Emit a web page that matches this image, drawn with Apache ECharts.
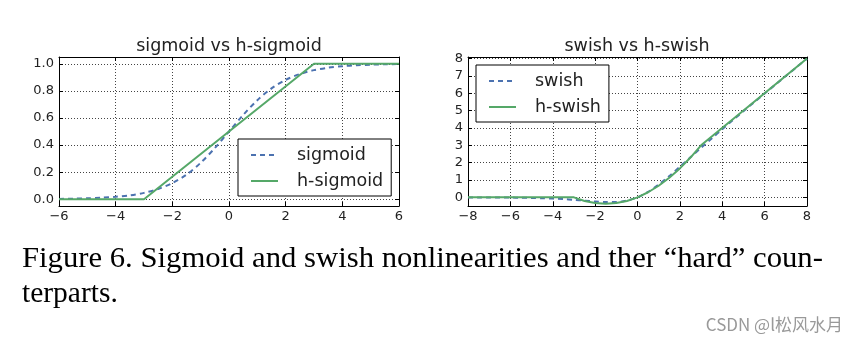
<!DOCTYPE html>
<html><head><meta charset="utf-8">
<script src="https://cdn.jsdelivr.net/npm/echarts@6/dist/echarts.min.js"></script>
<style>html,body{margin:0;padding:0;background:#fff;}#c{width:847px;height:344px;}</style>
</head><body><div id="c"></div>
<script>
// ---- data ----
const sigX = [-6,-5.5,-5,-4.5,-4,-3.5,-3,-2.5,-2,-1.5,-1,-0.5,0,0.5,1,1.5,2,2.5,3,3.5,4,4.5,5,5.5,6];
const sigY = [0.002,0.004,0.007,0.011,0.018,0.029,0.047,0.076,0.119,0.182,0.269,0.378,0.5,0.622,0.731,0.818,0.881,0.924,0.953,0.971,0.982,0.989,0.993,0.996,0.998];
const hsigX = [-6,-3,3,6];
const hsigY = [0,0,1,1];
const swX = [-8,-7.5,-7,-6.5,-6,-5.5,-5,-4.5,-4,-3.5,-3,-2.5,-2,-1.5,-1,-0.5,0,0.5,1,1.5,2,2.5,3,3.5,4,4.5,5,5.5,6,6.5,7,7.5,8];
const swY = [-0.003,-0.004,-0.006,-0.01,-0.015,-0.022,-0.034,-0.05,-0.072,-0.104,-0.142,-0.19,-0.238,-0.274,-0.269,-0.189,0,0.311,0.731,1.226,1.762,2.31,2.858,3.396,3.928,4.45,4.967,5.478,5.985,6.49,6.994,7.496,7.997];
const hswX = [-8,-3,-2.5,-2,-1.5,-1,-0.5,0,0.5,1,1.5,2,2.5,3,8];
const hswY = [0,0,-0.208,-0.333,-0.375,-0.333,-0.208,0,0.292,0.667,1.125,1.667,2.292,3,8];
const leftYTicks = [0,0.2,0.4,0.6,0.8,1.0];
const rightYTicks = [0,1,2,3,4,5,6,7,8];
const titles = ['sigmoid vs h-sigmoid','swish vs h-swish'];
const seriesNames = ['sigmoid','h-sigmoid','swish','h-swish'];
const captionLines = ['Figure 6. Sigmoid and swish nonlinearities and ther \u201chard\u201d coun-','terparts.'];
const watermark = 'CSDN @l松风水月';

const zip = (xs, ys) => xs.map((x, i) => [x, ys[i]]);
const minus = s => String(s).replace('-', '\u2212');
const FONT = 'DejaVu Sans';
const TXT = '#222';
const BLUE = '#4C72B0', GREEN = '#55A868';

const grids = [
  {left: 59, right: 448, top: 57, height: 149},
  {left: 468, right: 40, top: 57, height: 149}
];
function xAxes(gi, min, max, interval) {
  const base = {gridIndex: gi, type: 'value', min, max, interval,
    axisLine: {show: true, onZero: false, lineStyle: {color: '#000', width: 1}},
    axisTick: {show: true, inside: true, length: 4, lineStyle: {color: '#000'}}};
  return [
    Object.assign({}, base, {position: 'bottom',
      axisLabel: {show: true, margin: 4, color: TXT, fontFamily: FONT, fontSize: 13, formatter: minus},
      splitLine: {show: true, lineStyle: {color: '#444', type: [1, 2], width: 1}}}),
    Object.assign({}, base, {position: 'top', axisLabel: {show: false}, splitLine: {show: false}})
  ];
}
function yAxes(gi, min, max, ticks, fmt) {
  const base = {gridIndex: gi, type: 'value', min, max,
    axisLine: {show: true, onZero: false, lineStyle: {color: '#000', width: 1}},
    axisTick: {show: true, inside: true, length: 4, customValues: ticks, lineStyle: {color: '#000'}}};
  return [
    Object.assign({}, base, {position: 'left',
      axisLabel: {show: true, margin: 5, color: TXT, fontFamily: FONT, fontSize: 13, customValues: ticks, formatter: fmt},
      splitLine: {show: true, lineStyle: {color: '#444', type: [1, 2], width: 1}}}),
    Object.assign({}, base, {position: 'right', axisLabel: {show: false}, splitLine: {show: false}})
  ];
}

const CAP_FONT_SIZE = 29.5;
const legendCommon = {
  orient: 'vertical', padding: [7, 8, 6, 12], itemGap: 8, itemWidth: 27, itemHeight: 18,
  borderColor: '#000', borderWidth: 1, backgroundColor: '#fff', borderRadius: 0,
  itemStyle: {color: 'rgba(0,0,0,0)', borderWidth: 0, opacity: 0},
  textStyle: {fontFamily: FONT, fontSize: 17.5, color: TXT, padding: [0, 0, 0, 14]}
};

const option = {
  animation: false,
  backgroundColor: '#fff',
  grid: grids,
  title: [
    {text: titles[0], left: 229, top: 37, textAlign: 'center', padding: 0,
      textStyle: {fontFamily: FONT, fontSize: 17.5, fontWeight: 'normal', color: TXT}},
    {text: titles[1], left: 637, top: 37, textAlign: 'center', padding: 0,
      textStyle: {fontFamily: FONT, fontSize: 17.5, fontWeight: 'normal', color: TXT}}
  ],
  xAxis: [...xAxes(0, -6, 6, 2), ...xAxes(1, -8, 8, 2)],
  yAxis: [...yAxes(0, -0.05, 1.05, leftYTicks, v => minus(Number(v).toFixed(1))),
          ...yAxes(1, -0.5, 8.09, rightYTicks, v => minus(Math.round(v)))],
  legend: [
    Object.assign({}, legendCommon, {data: [seriesNames[0], seriesNames[1]], left: 238, top: 139}),
    Object.assign({}, legendCommon, {data: [seriesNames[2], seriesNames[3]], left: 476, top: 65})
  ],
  series: [
    {name: seriesNames[0], type: 'line', xAxisIndex: 0, yAxisIndex: 0, data: zip(sigX, sigY),
      showSymbol: false, symbol: 'none', smooth: 0.3, color: BLUE,
      lineStyle: {color: BLUE, width: 2, type: [5, 4]}, z: 3},
    {name: seriesNames[1], type: 'line', xAxisIndex: 0, yAxisIndex: 0, data: zip(hsigX, hsigY),
      showSymbol: false, symbol: 'none', color: GREEN,
      lineStyle: {color: GREEN, width: 2}, z: 4},
    {name: seriesNames[2], type: 'line', xAxisIndex: 2, yAxisIndex: 2, data: zip(swX, swY),
      showSymbol: false, symbol: 'none', smooth: 0.3, color: BLUE,
      lineStyle: {color: BLUE, width: 2, type: [5, 4]}, z: 3},
    {name: seriesNames[3], type: 'line', xAxisIndex: 2, yAxisIndex: 2, data: zip(hswX, hswY),
      showSymbol: false, symbol: 'none', color: GREEN,
      lineStyle: {color: GREEN, width: 2}, z: 4}
  ],
  graphic: [
    {type: 'text', x: 22, y: 244, scaleX: 1.04, style: {text: captionLines[0], fontFamily: 'Liberation Serif', fontSize: CAP_FONT_SIZE, fill: '#000'}},
    {type: 'text', x: 22, y: 279, style: {text: captionLines[1], fontFamily: 'Liberation Serif', fontSize: CAP_FONT_SIZE, fill: '#000'}},
    {type: 'text', right: 4, top: 316, style: {text: watermark, fontFamily: 'Noto Sans CJK SC', fontSize: 17, fill: '#999'}}
  ]
};
const chart = echarts.init(document.getElementById('c'), null, {renderer: 'canvas'});
chart.setOption(option);
</script></body></html>
